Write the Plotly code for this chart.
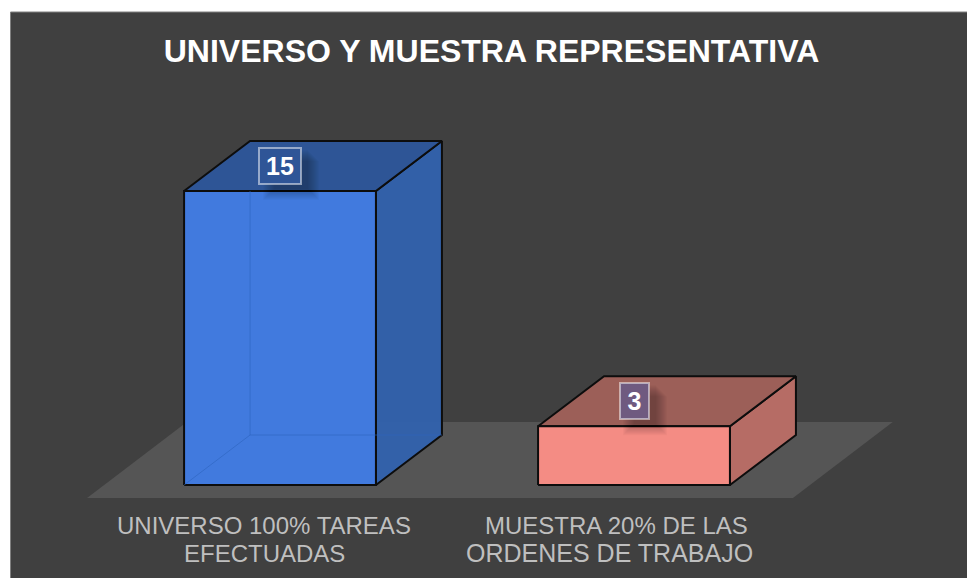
import plotly.graph_objects as go

category_lines = [["UNIVERSO 100% TAREAS", "EFECTUADAS"], ["MUESTRA 20% DE LAS", "ORDENES DE TRABAJO"]]
category_sizes = [[24, 24], [24, 25]]
category_shifts = [[-16, -16], [-18, -25]]
values = [15, 3]
front_colors = ["#417ade", "#f48c84"]
side_colors = ["rgba(50,98,174,0.95)", "rgba(186,109,102,0.97)"]
top_colors = ["#2e5596", "#9c5f58"]
inner_colors = ["rgba(45,100,190,0.6)", "rgba(0,0,0,0)"]
label_colors = ["#2f5597", "#6f5a80"]
title_text = "UNIVERSO Y MUESTRA REPRESENTATIVA"

W, H = 967, 578
X_RANGE = [-0.791, 1.9407]
Y_RANGE = [-4.745, 24.745]
BAR_W = 0.542
DX, DY = 0.1864, 2.55

fig = go.Figure()

# floor of the 3D chart
fx0, fx1, fy, fdx, fdy = -0.545, 1.449, -0.66, 0.282, 3.88
fig.add_trace(go.Scatter(
    x=[fx0, fx1, fx1 + fdx, fx0 + fdx, fx0], y=[fy, fy, fy + fdy, fy + fdy, fy],
    mode="lines", fill="toself", fillcolor="#555555", line=dict(width=0), hoverinfo="skip"))

OUT = dict(color="#0d0d0d", width=2)
for i, v in enumerate(values):
    l, r = i - BAR_W / 2, i + BAR_W / 2
    fig.add_trace(go.Scatter(
        x=[r, r + DX, r + DX, r, r], y=[0, DY, v + DY, v, 0], mode="lines", fill="toself",
        fillcolor=side_colors[i], line=OUT, hoverinfo="skip"))
    fig.add_trace(go.Scatter(
        x=[l, r, r + DX, l + DX, l], y=[v, v, v + DY, v + DY, v], mode="lines", fill="toself",
        fillcolor=top_colors[i], line=OUT, hoverinfo="skip"))
    fig.add_trace(go.Scatter(
        x=[l, r, r, l, l], y=[0, 0, v, v, 0], mode="lines", fill="toself",
        fillcolor=front_colors[i], line=OUT, hoverinfo="skip"))
    fig.add_trace(go.Scatter(
        x=[l, l + DX, l + DX, None, l + DX, r + DX], y=[0, DY, v, None, DY, DY],
        mode="lines", line=dict(color=inner_colors[i], width=1), hoverinfo="skip"))

shapes = [dict(type="rect", xref="paper", yref="paper", layer="below",
               x0=10.5 / W, x1=1.01, y0=-0.01, y1=1 - 12 / H,
               fillcolor="#404040", line=dict(color="#808080", width=1))]

annotations = []
for i, v in enumerate(values):
    half = 22 if v >= 10 else 16
    # soft shadow under the label box: nested translucent rects
    for g in range(12):
        shapes.append(dict(
            type="rect", layer="above", xref="x", yref="y", xsizemode="pixel", ysizemode="pixel",
            xanchor=i, yanchor=v + DY / 2,
            x0=-half + 16 - g, x1=half + 6 + g, y0=-23 - g, y1=16 - g,
            fillcolor="rgba(0,0,0,0.022)", line=dict(width=0)))
    annotations.append(dict(
        x=i, y=v + DY / 2, xref="x", yref="y", text=f"<b>{v}</b>", showarrow=False,
        font=dict(family="Liberation Sans", size=25, color="#ffffff"),
        bgcolor=label_colors[i], bordercolor="rgba(255,255,255,0.5)", borderwidth=2, borderpad=3,
        width=34 if v >= 10 else 21, height=28, xanchor="center", yanchor="middle"))
    # category labels, one annotation per line
    for k, line in enumerate(category_lines[i]):
        annotations.append(dict(
            x=i, y=0, xref="x", yref="y", text=line, showarrow=False,
            xshift=category_shifts[i][k], yshift=-40 - 28 * k,
            font=dict(family="Liberation Sans", size=category_sizes[i][k], color="#bfbfbf"),
            xanchor="center", yanchor="middle"))

fig.update_layout(
    width=W, height=H, autosize=False,
    margin=dict(l=0, r=0, t=0, b=0, pad=0),
    paper_bgcolor="#ffffff", plot_bgcolor="rgba(0,0,0,0)",
    showlegend=False, shapes=shapes, annotations=annotations,
    title=dict(text=f"<b>{title_text}</b>", xref="paper", yref="container",
               x=491.5 / W, y=1 - 51 / H, xanchor="center", yanchor="middle",
               font=dict(family="Liberation Sans", size=32, color="#ffffff")),
    xaxis=dict(range=X_RANGE, visible=False, showgrid=False, zeroline=False),
    yaxis=dict(range=Y_RANGE, visible=False, showgrid=False, zeroline=False),
)

fig.write_html("out.html", config={"displayModeBar": False},
               post_script="document.body.style.margin='0';window.dispatchEvent(new Event('resize'));")
